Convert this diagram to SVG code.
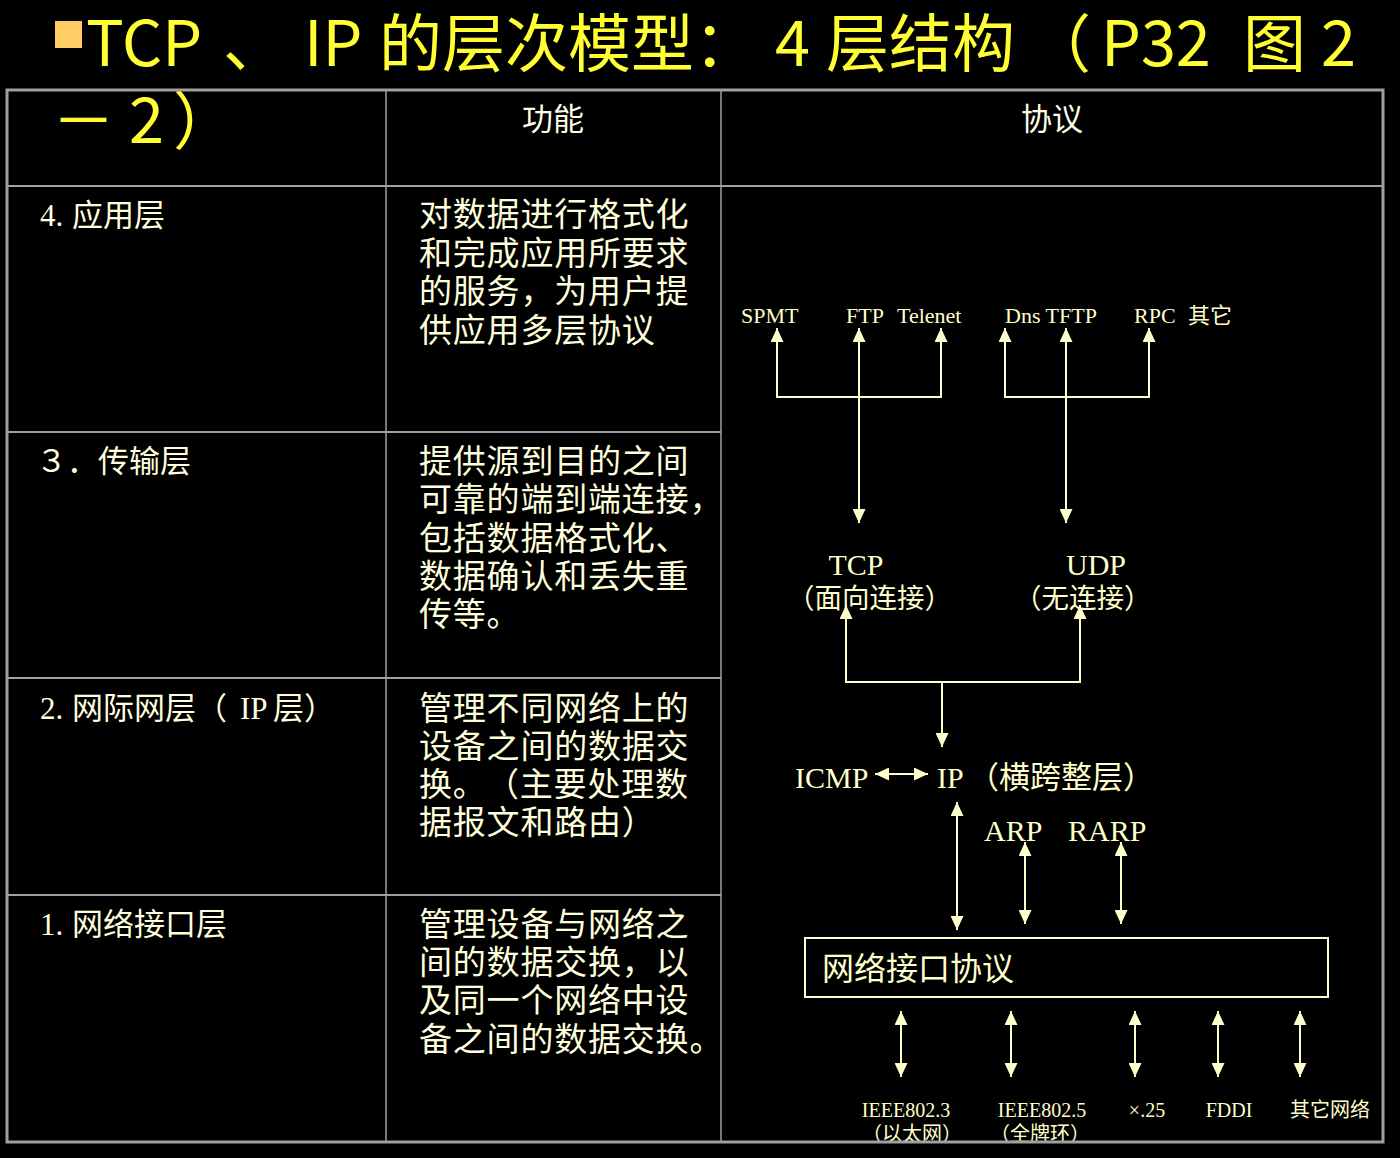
<svg xmlns="http://www.w3.org/2000/svg" width="1400" height="1158" viewBox="0 0 1400 1158">
<style>
.title{font-family:"Noto Sans CJK SC",sans-serif;font-size:63px;fill:#FFFF33}
.hd{font-family:"Noto Sans CJK SC",sans-serif;font-size:31px;fill:#FFFFE8;text-anchor:middle}
.lbl{font-family:"Liberation Serif","Noto Sans CJK SC",serif;font-size:31px;fill:#FFFFDD}
.cjk{font-family:"Noto Sans CJK SC",sans-serif}
.fn{font-family:"Noto Sans CJK SC",sans-serif;font-size:33px;letter-spacing:0.8px;fill:#FFFFDD}
.d{font-family:"Liberation Serif","Noto Sans CJK SC",serif;fill:#FFFFCC}
.s22{font-size:22px}
.s30{font-size:30px}
.s20{font-size:20px}
.grid{stroke:#A0A0A0;fill:none}
.ln{stroke:#FFFFCC;stroke-width:2;fill:none}
.ar{stroke:#FFFFCC;stroke-width:2;fill:none;marker-end:url(#ah)}
.ar2{stroke:#FFFFCC;stroke-width:2;fill:none;marker-end:url(#ah);marker-start:url(#ah)}
</style>
<defs>
<marker id="ah" markerUnits="userSpaceOnUse" markerWidth="14" markerHeight="13" refX="14" refY="6.5" orient="auto-start-reverse">
<path d="M0,0 L14,6.5 L0,13 z" fill="#FFFFCC"/>
</marker>
</defs>
<rect width="1400" height="1158" fill="#000"/>

<g id="table">
<line class="grid" x1="7" y1="186" x2="1383" y2="186" stroke-width="2"/>
<line class="grid" x1="7" y1="432" x2="721" y2="432" stroke-width="2"/>
<line class="grid" x1="7" y1="678" x2="721" y2="678" stroke-width="2"/>
<line class="grid" x1="7" y1="895" x2="721" y2="895" stroke-width="2"/>
<line class="grid" x1="386" y1="90" x2="386" y2="1142" stroke-width="1.5"/>
<line class="grid" x1="721" y1="90" x2="721" y2="1142" stroke-width="1.5"/>
</g>

<g id="title">
<rect x="55" y="21" width="27" height="27" fill="#FFCC66"/>
<text class="title" x="86" y="66">TCP</text>
<text class="title" x="223" y="66">、</text>
<text class="title" x="304" y="66">IP</text>
<text class="title" x="379" y="66">的层次模型：</text>
<text class="title" x="775" y="66">4</text>
<text class="title" x="826" y="66">层结构</text>
<text class="title" x="1028" y="66">（</text>
<text class="title" x="1101" y="66">P32</text>
<text class="title" x="1243" y="66">图</text>
<text class="title" x="1321" y="66">2</text>
<text class="title" x="52" y="143">－</text>
<text class="title" x="129" y="143">2</text>
<text class="title" x="173" y="143">）</text>
</g>

<g id="header">
<text class="hd" x="553" y="130">功能</text>
<text class="hd" x="1052" y="130">协议</text>
</g>

<g id="row4">
<text class="lbl" x="40" y="226">4.<tspan class="cjk" x="72">应用层</tspan></text>
<text class="fn" x="419" y="226">对数据进行格式化</text>
<text class="fn" x="419" y="265">和完成应用所要求</text>
<text class="fn" x="419" y="303">的服务，为用户提</text>
<text class="fn" x="419" y="342">供应用多层协议</text>
</g>

<g id="row3">
<text class="lbl cjk" x="36" y="472">３．传输层</text>
<text class="fn" x="419" y="473">提供源到目的之间</text>
<text class="fn" x="419" y="511">可靠的端到端连接，</text>
<text class="fn" x="419" y="550">包括数据格式化、</text>
<text class="fn" x="419" y="588">数据确认和丢失重</text>
<text class="fn" x="419" y="626">传等。</text>
</g>

<g id="row2">
<text class="lbl" x="40" y="719">2.<tspan class="cjk" x="72">网际网层（</tspan><tspan x="240">IP</tspan><tspan class="cjk" x="273">层）</tspan></text>
<text class="fn" x="419" y="720">管理不同网络上的</text>
<text class="fn" x="419" y="758">设备之间的数据交</text>
<text class="fn" x="419" y="796">换。<tspan x="486">（主要处理数</tspan></text>
<text class="fn" x="419" y="834">据报文和路由）</text>
</g>

<g id="row1">
<text class="lbl" x="40" y="935">1.<tspan class="cjk" x="72">网络接口层</tspan></text>
<text class="fn" x="419" y="936">管理设备与网络之</text>
<text class="fn" x="419" y="974">间的数据交换，以</text>
<text class="fn" x="419" y="1012">及同一个网络中设</text>
<text class="fn" x="419" y="1051">备之间的数据交换。</text>
</g>

<g id="app-protocols">
<text class="d s22" x="741" y="323">SPMT</text>
<text class="d s22" x="846" y="323">FTP</text>
<text class="d s22" x="897" y="323">Telenet</text>
<text class="d s22" x="1005" y="323">Dns TFTP</text>
<text class="d s22" x="1134" y="323">RPC</text>
<text class="d s22" x="1188" y="323">其它</text>
</g>

<g id="transport">
<text class="d s30" x="856" y="575" text-anchor="middle">TCP</text>
<text class="d" x="787" y="608" font-size="27.5">（面向连接）</text>
<text class="d s30" x="1096" y="575" text-anchor="middle">UDP</text>
<text class="d" x="1014" y="608" font-size="27.5">（无连接）</text>
</g>

<g id="internet">
<text class="d s30" x="795" y="788">ICMP</text>
<text class="d s30" x="937" y="788">IP</text>
<text class="d" x="968" y="788" font-size="31">（横跨整层）</text>
<text class="d s30" x="984" y="841">ARP</text>
<text class="d s30" x="1068" y="841">RARP</text>
</g>

<g id="netif">
<rect x="805" y="938" width="523" height="59" fill="none" stroke="#FFFFCC" stroke-width="2"/>
<text class="d cjk" x="822" y="980" font-size="32">网络接口协议</text>
</g>

<g id="networks">
<text class="d s20" x="906" y="1117" text-anchor="middle">IEEE802.3</text>
<text class="d s20" x="862" y="1141">（以太网）</text>
<text class="d s20" x="1042" y="1117" text-anchor="middle">IEEE802.5</text>
<text class="d s20" x="990" y="1141">（全牌环）</text>
<text class="d s20" x="1147" y="1117" text-anchor="middle">×.25</text>
<text class="d s20" x="1229" y="1117" text-anchor="middle">FDDI</text>
<text class="d s20" x="1330" y="1117" text-anchor="middle">其它网络</text>
</g>

<g id="connectors">
<path class="ln" d="M777,397 H941 M1005,397 H1149"/>
<line class="ar" x1="777" y1="398" x2="777" y2="328"/>
<line class="ar" x1="941" y1="398" x2="941" y2="328"/>
<line class="ar2" x1="859" y1="523" x2="859" y2="328"/>
<line class="ar" x1="1005" y1="398" x2="1005" y2="328"/>
<line class="ar" x1="1149" y1="398" x2="1149" y2="328"/>
<line class="ar2" x1="1066" y1="523" x2="1066" y2="328"/>
<path class="ln" d="M846,682 H1080"/>
<line class="ar" x1="846" y1="683" x2="846" y2="605"/>
<line class="ar" x1="1080" y1="683" x2="1080" y2="605"/>
<line class="ar" x1="942" y1="682" x2="942" y2="747"/>
<line class="ar2" x1="875" y1="774" x2="928" y2="774"/>
<line class="ar2" x1="957" y1="802" x2="957" y2="930"/>
<line class="ar2" x1="1025" y1="842" x2="1025" y2="924"/>
<line class="ar2" x1="1121" y1="842" x2="1121" y2="924"/>
<line class="ar2" x1="901" y1="1011" x2="901" y2="1077"/>
<line class="ar2" x1="1011" y1="1011" x2="1011" y2="1077"/>
<line class="ar2" x1="1135" y1="1011" x2="1135" y2="1077"/>
<line class="ar2" x1="1218" y1="1011" x2="1218" y2="1077"/>
<line class="ar2" x1="1300" y1="1011" x2="1300" y2="1077"/>
</g>

<rect id="border" x="7" y="90" width="1376" height="1052" fill="none" stroke="#A0A0A0" stroke-width="3"/>
</svg>
